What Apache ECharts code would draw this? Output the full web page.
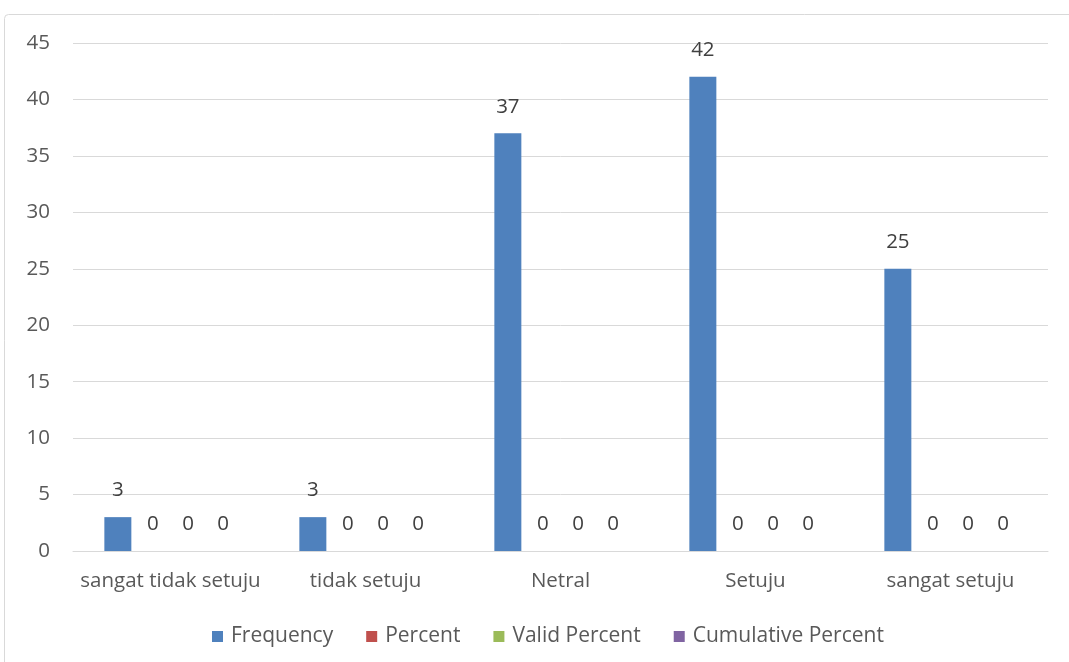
<!DOCTYPE html>
<html><head><meta charset="utf-8">
<script src="https://cdn.jsdelivr.net/npm/echarts@6/dist/echarts.min.js"></script>
<style>html,body{margin:0;padding:0;background:#fff}#c{width:1069px;height:662px}</style>
</head><body><div id="c"></div>
<script>
const categories = ['sangat tidak setuju', 'tidak setuju', 'Netral', 'Setuju', 'sangat setuju'];
const seriesNames = ['Frequency', 'Percent', 'Valid Percent', 'Cumulative Percent'];
const frequency = [3, 3, 37, 42, 25];
const percent = [0, 0, 0, 0, 0];
const validPercent = [0, 0, 0, 0, 0];
const cumulativePercent = [0, 0, 0, 0, 0];
const colors = ['#4F81BD', '#C0504D', '#9BBB59', '#8064A2'];
const allData = [frequency, percent, validPercent, cumulativePercent];

const font = '"Open Sans", "Liberation Sans", Arial, sans-serif';
const fs = 20.5;
const chart = echarts.init(document.getElementById('c'));
chart.setOption({
  animation: false,
  color: colors,
  textStyle: { fontFamily: font },
  graphic: [{
    type: 'rect', left: 4, top: 14, z: -1,
    shape: { width: 1080, height: 660, r: 4 },
    style: { fill: '#fff', stroke: '#d9d9d9', lineWidth: 1 }
  }],
  grid: { left: 73, right: 21, top: 43, bottom: 111, containLabel: false },
  legend: {
    bottom: 10, left: 207, itemWidth: 11, itemHeight: 11, itemGap: 33,
    icon: 'rect',
    textStyle: { fontSize: 21, color: '#595959', fontFamily: font, padding: [0, 0, 0, 3] },
    data: seriesNames
  },
  xAxis: {
    type: 'category', data: categories,
    axisLine: { show: true, lineStyle: { color: '#d9d9d9' } },
    axisTick: { show: false },
    axisLabel: { color: '#595959', fontSize: fs, margin: 20, fontFamily: font, interval: 0 }
  },
  yAxis: {
    type: 'value', min: 0, max: 45, interval: 5,
    axisLine: { show: false }, axisTick: { show: false },
    splitLine: { lineStyle: { color: '#d9d9d9', width: 1 } },
    axisLabel: { color: '#595959', fontSize: fs, margin: 23, fontFamily: font }
  },
  series: seriesNames.map((n, i) => ({
    name: n, type: 'bar', data: allData[i], barWidth: 27, barGap: '30%',
    itemStyle: { color: colors[i] },
    label: { show: true, position: 'top', distance: 16, color: '#404040', fontSize: fs, fontFamily: font }
  }))
});
</script></body></html>
